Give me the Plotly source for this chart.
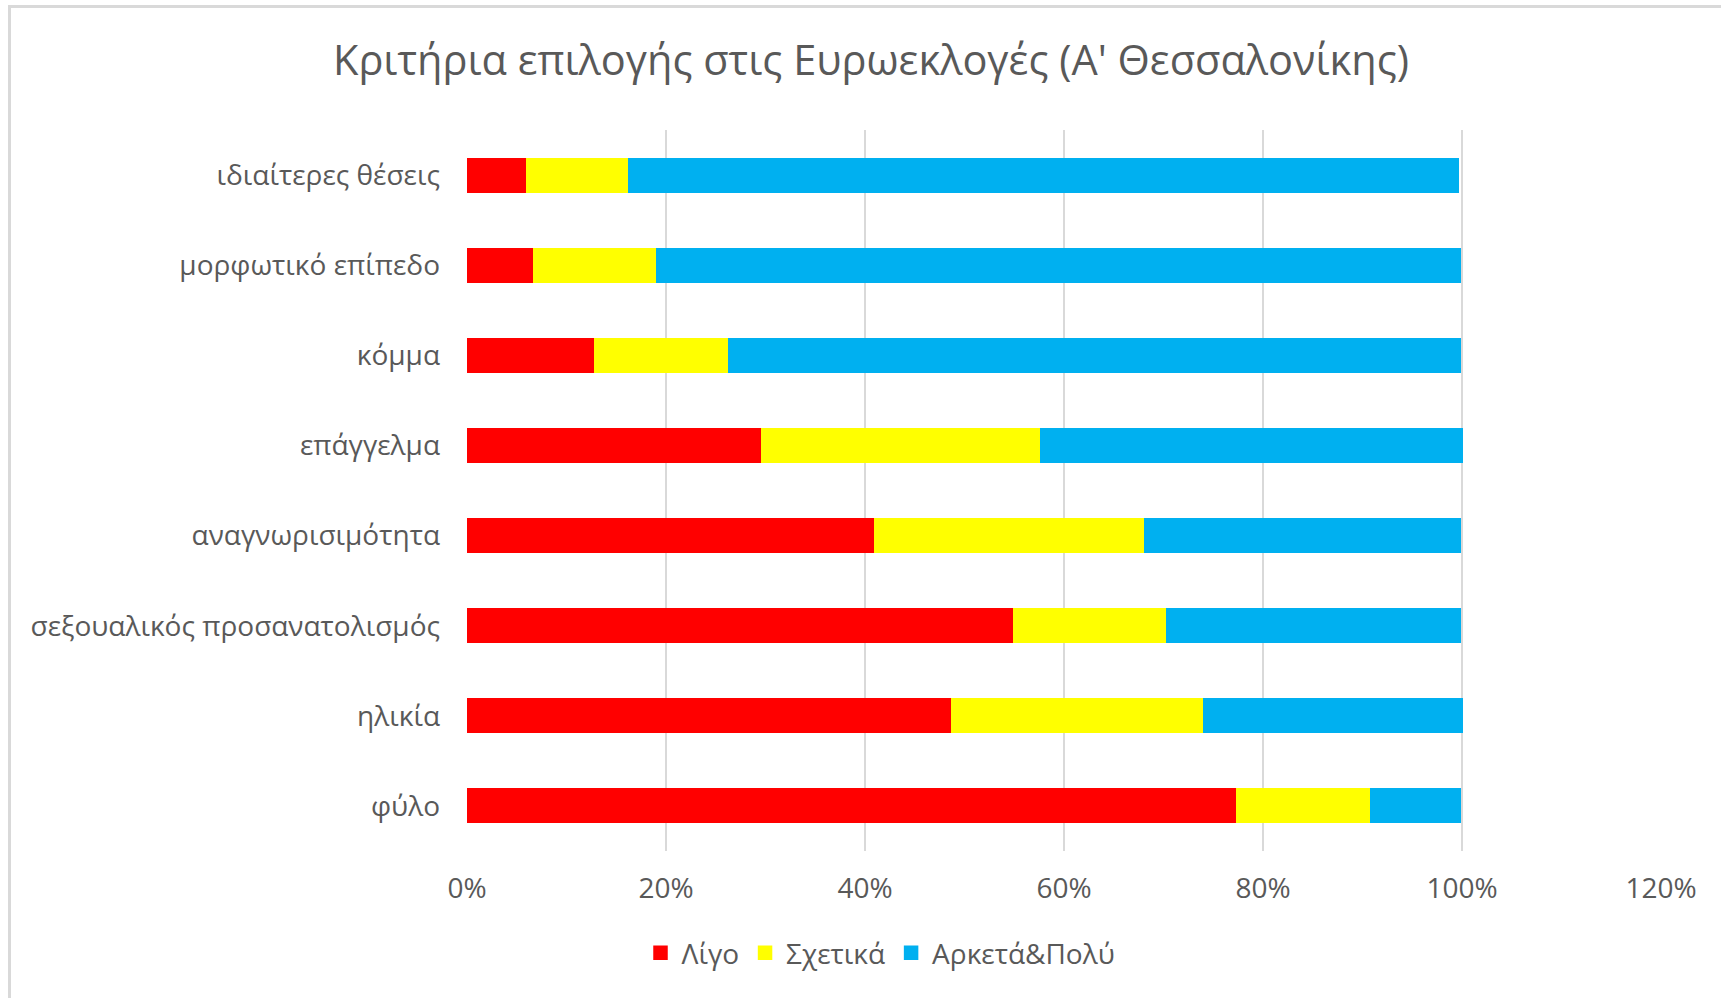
import plotly.graph_objects as go

# Criteria, listed bottom-to-top as they appear on the axis
categories = [
    "φύλο",
    "ηλικία",
    "σεξουαλικός προσανατολισμός",
    "αναγνωρισιμότητα",
    "επάγγελμα",
    "κόμμα",
    "μορφωτικό επίπεδο",
    "ιδιαίτερες θέσεις",
]

# Share of respondents per answer (fractions of 1)
ligo = [0.774, 0.488, 0.550, 0.410, 0.297, 0.129, 0.068, 0.061]
sxetika = [0.135, 0.253, 0.154, 0.272, 0.280, 0.135, 0.123, 0.102]
arketa_poly = [0.089, 0.259, 0.294, 0.316, 0.423, 0.734, 0.807, 0.833]

series_names = ["Λίγο", "Σχετικά", "Αρκετά&Πολύ"]
series_colors = ["#FF0000", "#FFFF00", "#00B0F0"]

x_ticks = [0, 0.2, 0.4, 0.6, 0.8, 1.0, 1.2]
x_ticklabels = ["0%", "20%", "40%", "60%", "80%", "100%", "120%"]

TEXT = "#595959"
FONT = "Open Sans"

fig = go.Figure()
for name, vals, color in zip(series_names, [ligo, sxetika, arketa_poly], series_colors):
    fig.add_trace(go.Bar(
        y=categories,
        x=vals,
        name=name,
        orientation="h",
        marker=dict(color=color, line=dict(width=2.5, color=color)),
    ))

fig.update_layout(
    width=1721,
    height=998,
    barmode="stack",
    bargap=0.64,
    paper_bgcolor="white",
    plot_bgcolor="white",
    margin=dict(l=467, r=60, t=130, b=147),
    font=dict(family=FONT, color=TEXT, size=28),
    title=dict(
        text="Κριτήρια επιλογής στις Ευρωεκλογές (Α' Θεσσαλονίκης)",
        x=871 / 1721,
        xanchor="center",
        y=1 - 60 / 998,
        yanchor="middle",
        font=dict(family=FONT, size=41.5, color=TEXT),
    ),
    xaxis=dict(
        range=[0, 1.2],
        tickvals=x_ticks,
        ticktext=x_ticklabels,
        showgrid=True,
        gridcolor="#D9D9D9",
        gridwidth=2,
        zeroline=False,
        showline=False,
        ticks="",
        ticklabelstandoff=18,
        tickfont=dict(size=28, color=TEXT),
        fixedrange=True,
    ),
    yaxis=dict(
        showgrid=False,
        zeroline=False,
        showline=False,
        ticks="",
        ticklabelstandoff=26,
        tickfont=dict(size=28, color=TEXT),
        categoryorder="array",
        categoryarray=categories,
    ),
    legend=dict(
        orientation="h",
        x=(880 - 467) / 1194,
        xanchor="center",
        y=(851 - 953) / 721,
        yanchor="middle",
        font=dict(size=28, color=TEXT),
        traceorder="normal",
        itemwidth=32,
    ),
    showlegend=True,
)

# Light chart-area frame
fig.add_shape(
    type="rect",
    xref="paper", yref="paper",
    x0=(9.5 - 467) / 1194, x1=(1740 - 467) / 1194,
    y0=(851 - 1010) / 721, y1=(851 - 6.5) / 721,
    line=dict(color="#D9D9D9", width=3),
    fillcolor="rgba(0,0,0,0)",
    layer="below",
)

fig.write_html("out.html")
